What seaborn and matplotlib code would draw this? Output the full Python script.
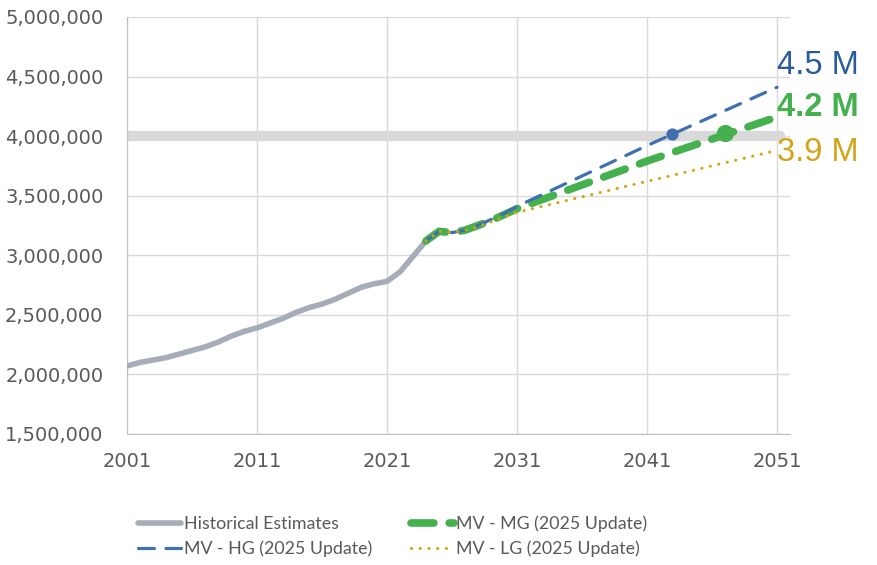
import matplotlib
matplotlib.use("Agg")
import matplotlib.pyplot as plt
import seaborn as sns
import pandas as pd
from matplotlib.ticker import FuncFormatter

# Historical estimates
hist_years = list(range(2001, 2025))
hist_vals = [2.07, 2.10, 2.12, 2.14, 2.17, 2.20, 2.23, 2.27, 2.32, 2.36,
             2.39, 2.43, 2.47, 2.52, 2.56, 2.59, 2.63, 2.68, 2.73, 2.76,
             2.78, 2.86, 2.99, 3.12]

# Projections (2025 update)
proj_years = [2024, 2025, 2026, 2027, 2028, 2029, 2030, 2031, 2041, 2051]
hg_vals = [3.12, 3.20, 3.19, 3.21, 3.25, 3.30, 3.35, 3.41, 3.92, 4.41]
mg_vals = [3.12, 3.20, 3.19, 3.21, 3.25, 3.29, 3.34, 3.39, 3.79, 4.16]
lg_vals = [3.12, 3.20, 3.19, 3.21, 3.24, 3.28, 3.32, 3.36, 3.62, 3.88]

# 4M crossing markers
cross_years = [2042.9, 2047.0]
cross_vals = [4.02, 4.03]

end_labels = ["4.5 M", "4.2 M", "3.9 M"]
end_label_y = [4.596, 4.243, 3.866]

c_hist = "#A6ACB8"
c_hg = "#3F6FB0"
c_mg = "#45B04E"
c_lg = "#D3A315"

hist = pd.DataFrame({"year": hist_years, "pop": [v * 1e6 for v in hist_vals]})
hg = pd.DataFrame({"year": proj_years, "pop": [v * 1e6 for v in hg_vals]})
mg = pd.DataFrame({"year": proj_years, "pop": [v * 1e6 for v in mg_vals]})
lg = pd.DataFrame({"year": proj_years, "pop": [v * 1e6 for v in lg_vals]})

sns.set_style("white")
plt.rcParams['font.family'] = ['DejaVu Sans']

fig = plt.figure(figsize=(8.77, 5.65), dpi=100)
ax = fig.add_axes([0.1448, 0.232, 0.756, 0.738])

# 4M reference band
ax.axhline(4e6, xmax=0.985, color="#D9D9D9", lw=7.5, zorder=1)

sns.lineplot(data=hist, x="year", y="pop", ax=ax, color=c_hist, lw=4.0,
             solid_capstyle="round", label="Historical Estimates", zorder=3)
sns.lineplot(data=hg, x="year", y="pop", ax=ax, color=c_hg, lw=2.3,
             label="MV - HG (2025 Update)", zorder=5)
sns.lineplot(data=mg, x="year", y="pop", ax=ax, color=c_mg, lw=5.5,
             label="MV - MG (2025 Update)", zorder=4)
sns.lineplot(data=lg, x="year", y="pop", ax=ax, color=c_lg, lw=2.2,
             label="MV - LG (2025 Update)", zorder=6)

lines = ax.get_lines()
lines[2].set_dashes((5, 3.6))
lines[2].set_dash_capstyle("round")
lines[3].set_dashes((3, 2.0))
lines[3].set_dash_capstyle("round")
lines[4].set_dashes((0.05, 2.8))
lines[4].set_dash_capstyle("round")

ax.scatter([cross_years[0]], [cross_vals[0] * 1e6], s=60, color=c_hg, zorder=7)
ax.scatter([cross_years[1]], [cross_vals[1] * 1e6], s=130, color=c_mg, zorder=7)

label_colors = ["#2A5C99", c_mg, c_lg]
label_weights = ["normal", "bold", "normal"]
for txt, yv, col, w in zip(end_labels, end_label_y, label_colors, label_weights):
    ax.text(2051.0, yv * 1e6, txt, color=col, fontsize=23.5, fontweight=w,
            va="center", ha="left", clip_on=False,
            family=["Liberation Sans", "DejaVu Sans"])

ax.set_xlim(2001, 2052)
ax.set_ylim(1.5e6, 5e6)
ax.set_xticks([2001, 2011, 2021, 2031, 2041, 2051])
ax.set_yticks([1.5e6 + i * 5e5 for i in range(8)])
ax.yaxis.set_major_formatter(FuncFormatter(lambda v, p: f"{int(v):,}"))
ax.tick_params(axis="both", labelsize=14, colors="#595959", length=0)
ax.tick_params(axis="y", pad=17)
ax.tick_params(axis="x", length=5, color="#BFBFBF", direction="out", pad=8)
ax.grid(True, color="#D9D9D9", lw=1)
ax.set_xlabel("")
ax.set_ylabel("")
for s in ["top", "right"]:
    ax.spines[s].set_visible(False)
for s in ["left", "bottom"]:
    ax.spines[s].set_color("#BFBFBF")

handles, labels = ax.get_legend_handles_labels()
ax.legend_.remove()
fig.legend(handles, labels, loc="center", bbox_to_anchor=(0.448, 0.051), ncol=2,
           frameon=False, handlelength=2.4, handletextpad=0.15,
           columnspacing=2.2, labelspacing=0.5,
           prop={"family": "Lato", "size": 12.8}, labelcolor="#595959")

fig.savefig("out.png", dpi=100)
